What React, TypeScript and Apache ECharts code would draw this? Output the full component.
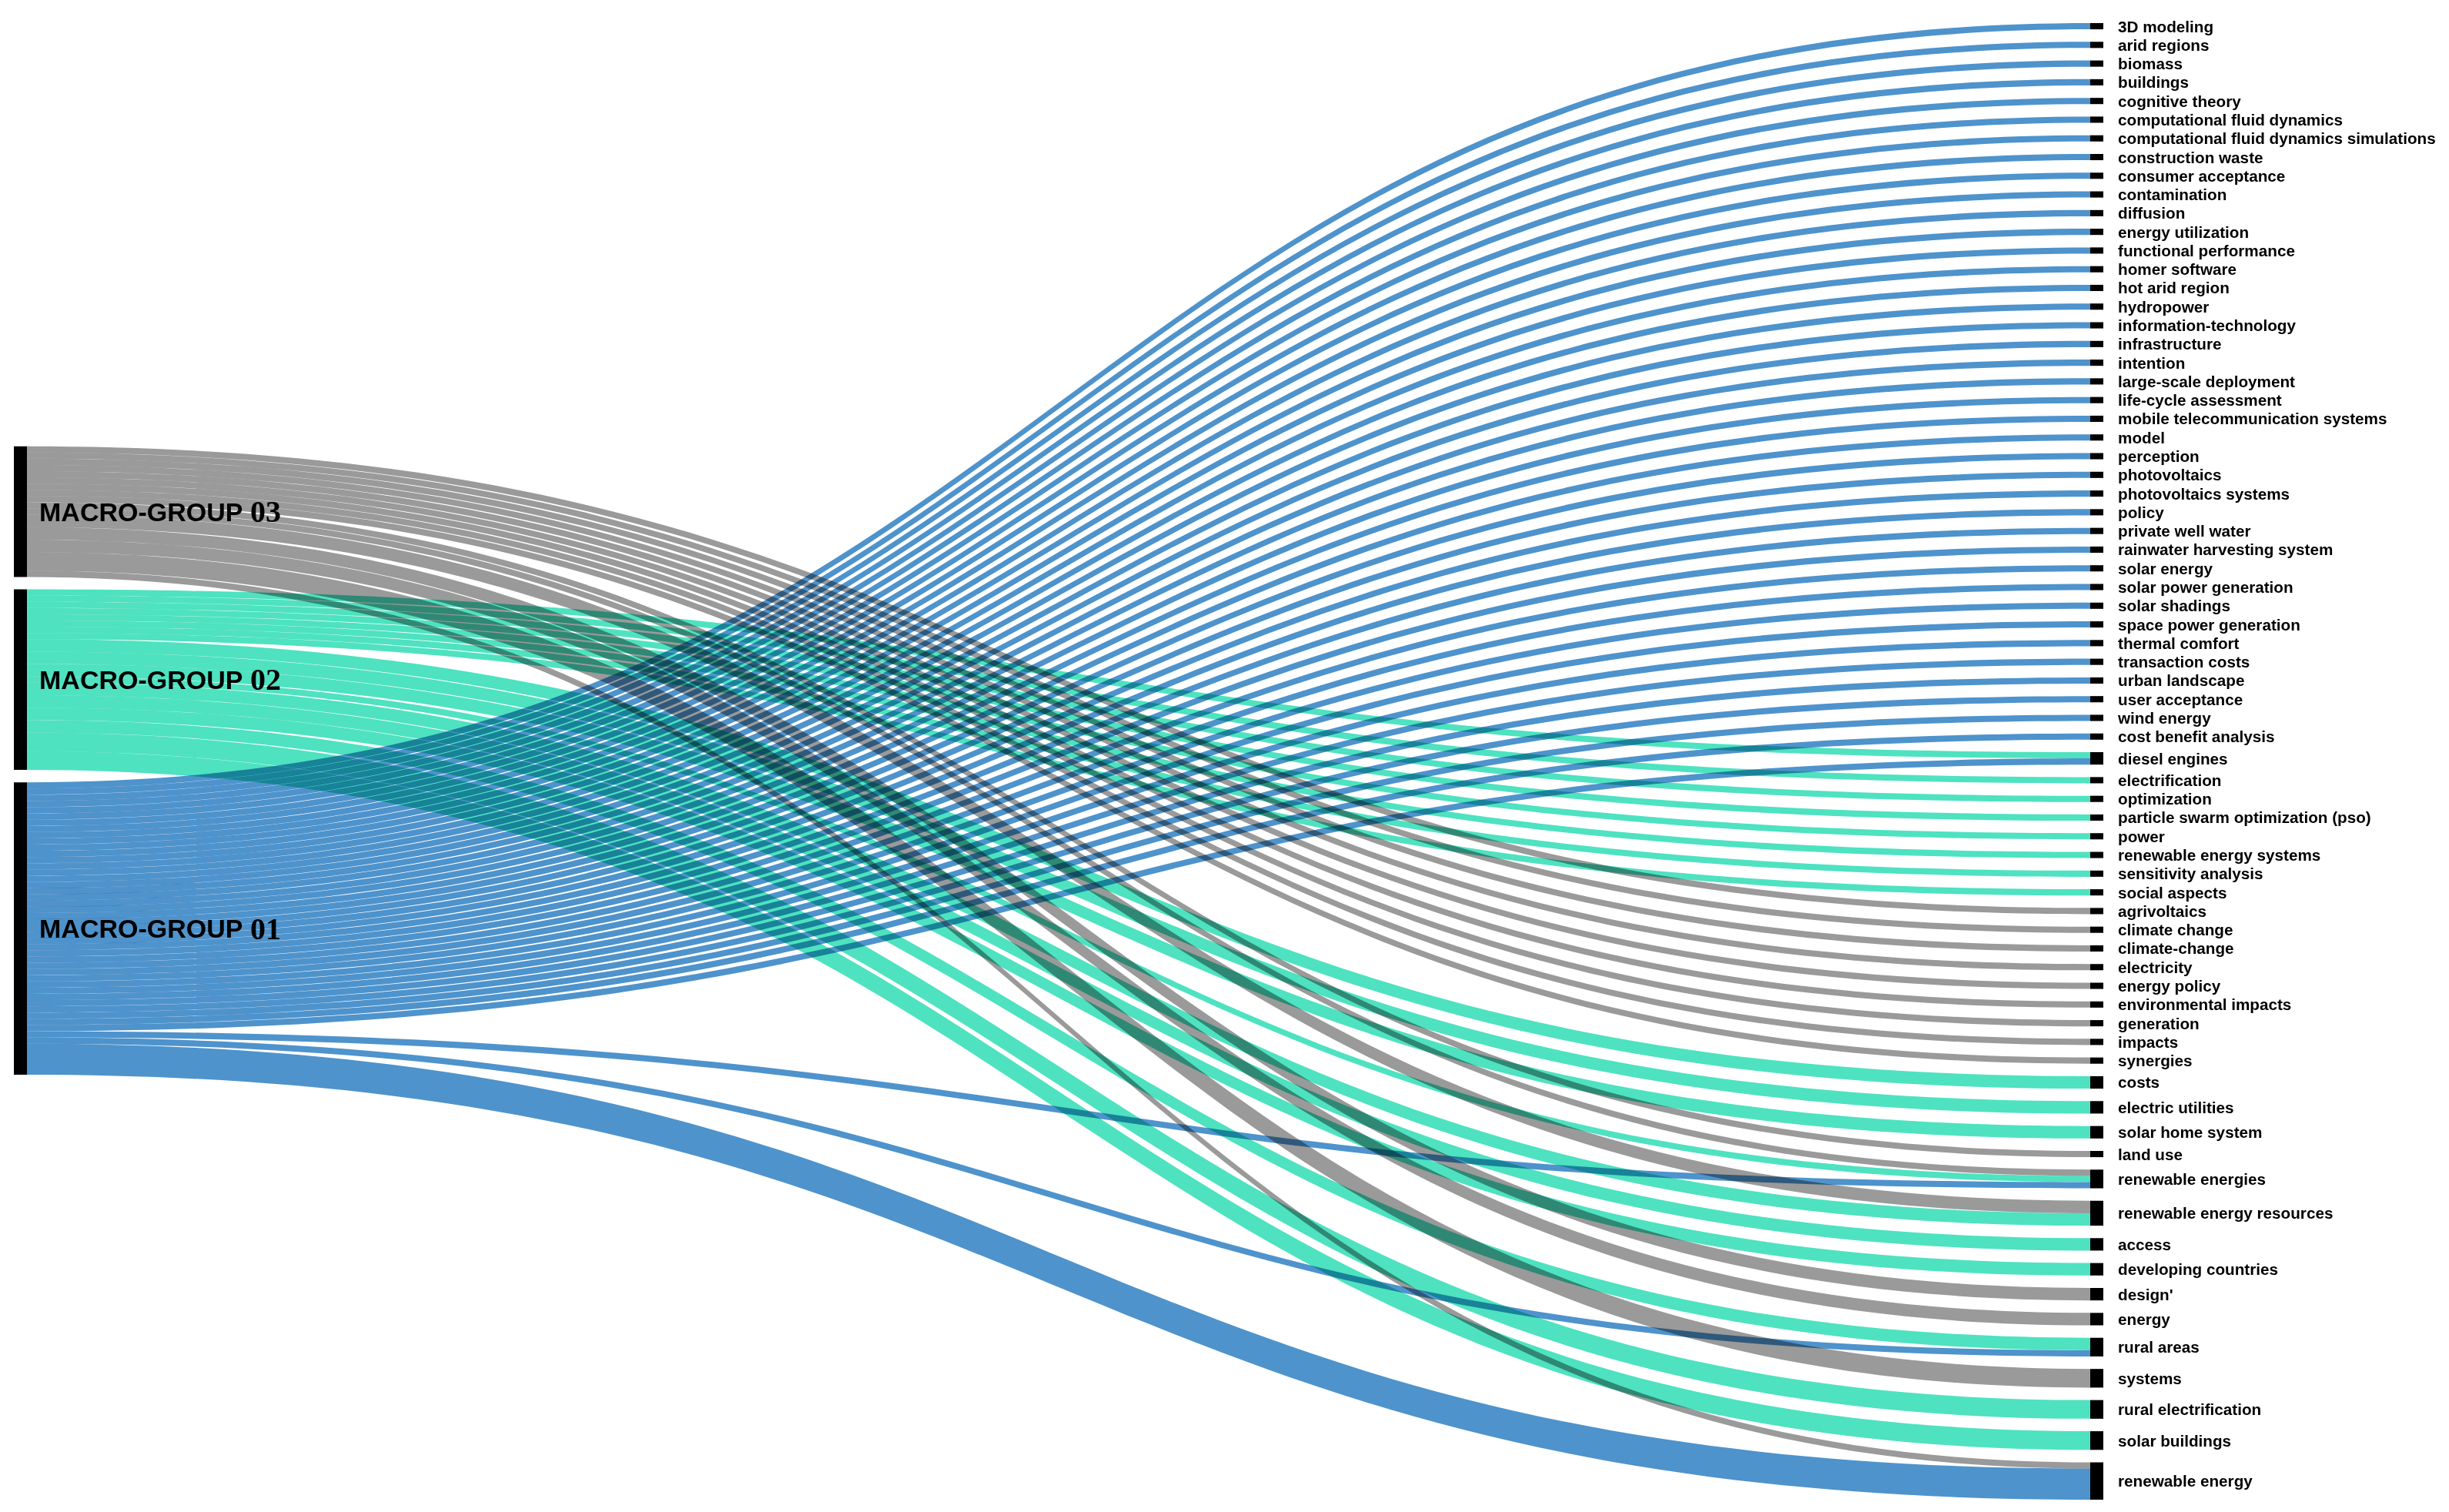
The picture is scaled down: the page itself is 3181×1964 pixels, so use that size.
import React, { useEffect, useRef } from "react";
import * as echarts from "echarts";

// ---------- data ----------
const macroGroups = ["MACRO-GROUP 03", "MACRO-GROUP 02", "MACRO-GROUP 01"];

const keywords = [
  "3D modeling", "arid regions", "biomass", "buildings", "cognitive theory",
  "computational fluid dynamics", "computational fluid dynamics simulations",
  "construction waste", "consumer acceptance", "contamination", "diffusion",
  "energy utilization", "functional performance", "homer software", "hot arid region",
  "hydropower", "information-technology", "infrastructure", "intention",
  "large-scale deployment", "life-cycle assessment", "mobile telecommunication systems",
  "model", "perception", "photovoltaics", "photovoltaics systems", "policy",
  "private well water", "rainwater harvesting system", "solar energy",
  "solar power generation", "solar shadings", "space power generation",
  "thermal comfort", "transaction costs", "urban landscape", "user acceptance",
  "wind energy", "cost benefit analysis", "diesel engines", "electrification",
  "optimization", "particle swarm optimization (pso)", "power",
  "renewable energy systems", "sensitivity analysis", "social aspects",
  "agrivoltaics", "climate change", "climate-change", "electricity", "energy policy",
  "environmental impacts", "generation", "impacts", "synergies", "costs",
  "electric utilities", "solar home system", "land use", "renewable energies",
  "renewable energy resources", "access", "developing countries", "design'",
  "energy", "rural areas", "systems", "rural electrification", "solar buildings",
  "renewable energy",
];

const group01Links: [string, number][] = [
  ["3D modeling", 1], ["arid regions", 1], ["biomass", 1], ["buildings", 1],
  ["cognitive theory", 1], ["computational fluid dynamics", 1],
  ["computational fluid dynamics simulations", 1], ["construction waste", 1],
  ["consumer acceptance", 1], ["contamination", 1], ["diffusion", 1],
  ["energy utilization", 1], ["functional performance", 1], ["homer software", 1],
  ["hot arid region", 1], ["hydropower", 1], ["information-technology", 1],
  ["infrastructure", 1], ["intention", 1], ["large-scale deployment", 1],
  ["life-cycle assessment", 1], ["mobile telecommunication systems", 1], ["model", 1],
  ["perception", 1], ["photovoltaics", 1], ["photovoltaics systems", 1], ["policy", 1],
  ["private well water", 1], ["rainwater harvesting system", 1], ["solar energy", 1],
  ["solar power generation", 1], ["solar shadings", 1], ["space power generation", 1],
  ["thermal comfort", 1], ["transaction costs", 1], ["urban landscape", 1],
  ["user acceptance", 1], ["wind energy", 1], ["cost benefit analysis", 1],
  ["diesel engines", 1], ["renewable energies", 1], ["rural areas", 1],
  ["renewable energy", 5],
];

const group02Links: [string, number][] = [
  ["diesel engines", 1], ["electrification", 1], ["optimization", 1],
  ["particle swarm optimization (pso)", 1], ["power", 1], ["renewable energy systems", 1],
  ["sensitivity analysis", 1], ["social aspects", 1], ["costs", 2],
  ["electric utilities", 2], ["solar home system", 2], ["renewable energies", 1],
  ["renewable energy resources", 2], ["access", 2], ["developing countries", 2],
  ["rural areas", 2], ["rural electrification", 3], ["solar buildings", 3],
];

const group03Links: [string, number][] = [
  ["agrivoltaics", 1], ["climate change", 1], ["climate-change", 1], ["electricity", 1],
  ["energy policy", 1], ["environmental impacts", 1], ["generation", 1], ["impacts", 1],
  ["synergies", 1], ["land use", 1], ["renewable energies", 1],
  ["renewable energy resources", 2], ["design'", 2], ["energy", 2], ["systems", 3],
  ["renewable energy", 1],
];

// layout helper: empty weight placed above the macro-groups so the left column sits lower
const LEFT_SPACER_VALUE = 66;

const groupColors: Record<string, string> = {
  "MACRO-GROUP 01": "#4e93cc",
  "MACRO-GROUP 02": "#4ee2c0",
  "MACRO-GROUP 03": "#9a9a9a",
};

export default function App() {
  const ref = useRef<HTMLDivElement>(null);

  useEffect(() => {
    document.body.style.margin = "0";
    const chart = echarts.init(ref.current as HTMLDivElement, undefined, { renderer: "svg" });

    const nodes: any[] = [
      {
        name: "spacer",
        value: LEFT_SPACER_VALUE,
        depth: 0,
        itemStyle: { color: "rgba(0,0,0,0)" },
        label: { show: false },
      },
      ...macroGroups.map((name) => ({
        name,
        depth: 0,
        label: {
          position: "right",
          distance: 16,
          formatter: (p: any) => {
            const parts = String(p.name).split(" ");
            return `{a|${parts[0]} }{b|${parts[1]}}`;
          },
          rich: {
            a: {
              fontFamily: "Liberation Sans, Arial, sans-serif",
              fontWeight: "bold",
              fontSize: 34,
              color: "#000",
            },
            b: {
              fontFamily: "Liberation Serif, Times New Roman, serif",
              fontWeight: "bold",
              fontSize: 40,
              color: "#000",
            },
          },
        },
      })),
      ...keywords.map((name) => ({ name })),
    ];

    const links: any[] = [];
    const addLinks = (source: string, list: [string, number][]) => {
      list.forEach(([target, value]) => {
        links.push({
          source,
          target,
          value,
          lineStyle: { color: groupColors[source], opacity: 1 },
        });
      });
    };
    addLinks("MACRO-GROUP 03", group03Links);
    addLinks("MACRO-GROUP 02", group02Links);
    addLinks("MACRO-GROUP 01", group01Links);

    chart.setOption({
      animation: false,
      backgroundColor: "#ffffff",
      tooltip: { show: false },
      series: [
        {
          type: "sankey",
          left: 18,
          right: 449,
          top: 30,
          bottom: 16,
          nodeWidth: 17,
          nodeGap: 16.2,
          nodeAlign: "left",
          layoutIterations: 0,
          draggable: false,
          emphasis: { disabled: true },
          itemStyle: { color: "#000", borderWidth: 0 },
          lineStyle: { curveness: 0.5, opacity: 1 },
          label: {
            position: "right",
            distance: 19,
            color: "#000",
            fontFamily: "Liberation Sans, Arial, sans-serif",
            fontWeight: "bold",
            fontSize: 20.7,
          },
          data: nodes,
          links,
        },
      ],
    });

    return () => chart.dispose();
  }, []);

  return (
    <>
      <style>{`.sankey-host svg path { mix-blend-mode: multiply; }`}</style>
      <div ref={ref} className="sankey-host" style={{ width: 3181, height: 1964 }} />
    </>
  );
}
